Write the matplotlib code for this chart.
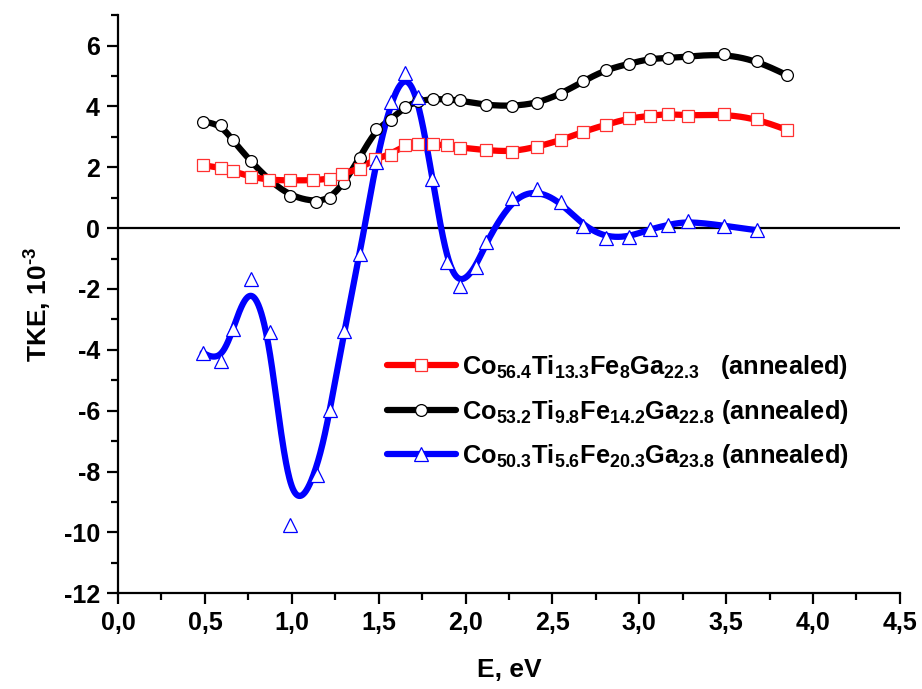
import numpy as np
import matplotlib
matplotlib.use('Agg')
import matplotlib.pyplot as plt
from matplotlib.lines import Line2D
from matplotlib.ticker import FuncFormatter, MultipleLocator

plt.rcParams['font.family'] = ['Liberation Sans', 'DejaVu Sans']
plt.rcParams['font.weight'] = 'bold'
plt.rcParams['axes.unicode_minus'] = False
plt.rcParams['mathtext.fontset'] = 'custom'
plt.rcParams['mathtext.rm'] = 'Liberation Sans'
plt.rcParams['mathtext.bf'] = 'Liberation Sans:bold'

# data (E in eV, TKE in 10^-3)
e_red = [0.491, 0.591, 0.66, 0.763, 0.871, 0.99, 1.12, 1.22, 1.289, 1.39, 1.48, 1.569, 1.651, 1.728,
         1.814, 1.891, 1.968, 2.12, 2.269, 2.409, 2.549, 2.677, 2.808, 2.94, 3.059, 3.168, 3.278,
         3.489, 3.677, 3.849]
tke_red = [2.07, 1.98, 1.875, 1.69, 1.58, 1.57, 1.57, 1.62, 1.77, 1.95, 2.28, 2.42, 2.73, 2.75,
           2.76, 2.72, 2.65, 2.56, 2.51, 2.67, 2.89, 3.17, 3.40, 3.61, 3.69, 3.76, 3.69,
           3.75, 3.59, 3.23]

e_black = [0.491, 0.591, 0.66, 0.763, 0.87, 0.99, 1.139, 1.22, 1.302, 1.39, 1.486, 1.571, 1.651, 1.728,
           1.814, 1.891, 1.968, 2.12, 2.269, 2.409, 2.549, 2.677, 2.808, 2.94, 3.059, 3.168, 3.278,
           3.489, 3.677, 3.849]
tke_black = [3.50, 3.40, 2.89, 2.20, 1.58, 1.05, 0.855, 0.98, 1.49, 2.31, 3.26, 3.57, 3.99, 4.18,
             4.25, 4.23, 4.20, 4.04, 4.01, 4.10, 4.41, 4.83, 5.21, 5.40, 5.57, 5.59, 5.64,
             5.73, 5.50, 5.03]

e_blue = [0.487, 0.591, 0.664, 0.763, 0.875, 0.99, 1.143, 1.22, 1.302, 1.392, 1.484, 1.569, 1.651,
          1.728, 1.81, 1.891, 1.968, 2.06, 2.12, 2.269, 2.409, 2.549, 2.677, 2.808, 2.94, 3.059,
          3.168, 3.278, 3.489, 3.677]
tke_blue = [-4.10, -4.38, -3.30, -1.66, -3.41, -9.75, -8.10, -5.99, -3.39, -0.86, 2.18, 4.15, 5.11,
            4.32, 1.61, -1.11, -1.91, -1.28, -0.45, 0.98, 1.27, 0.85, 0.08, -0.31, -0.29, -0.04,
            0.11, 0.23, 0.08, -0.07]

labels = [r'$\mathbf{Co}_{\mathbf{56.4}}\mathbf{Ti}_{\mathbf{13.3}}\mathbf{Fe}_{\mathbf{8}}\mathbf{Ga}_{\mathbf{22.3}}$   (annealed)',
          r'$\mathbf{Co}_{\mathbf{53.2}}\mathbf{Ti}_{\mathrm{9.8}}\mathbf{Fe}_{\mathbf{14.2}}\mathbf{Ga}_{\mathbf{22.8}}$ (annealed)',
          r'$\mathbf{Co}_{\mathrm{50.3}}\mathbf{Ti}_{\mathrm{5.6}}\mathbf{Fe}_{\mathrm{20.3}}\mathbf{Ga}_{\mathbf{23.8}}$ (annealed)']


def bspline(x, y, n=40):
    # Origin-like B-spline: points are control points, curve is clamped at the ends
    px = np.r_[x[0], x[0], x, x[-1], x[-1]]
    py = np.r_[y[0], y[0], y, y[-1], y[-1]]
    t = np.linspace(0, 1, n, endpoint=False)
    b0 = (1 - t) ** 3 / 6
    b1 = (3 * t ** 3 - 6 * t ** 2 + 4) / 6
    b2 = (-3 * t ** 3 + 3 * t ** 2 + 3 * t + 1) / 6
    b3 = t ** 3 / 6
    xs, ys = [], []
    for i in range(len(px) - 3):
        xs.append(b0 * px[i] + b1 * px[i + 1] + b2 * px[i + 2] + b3 * px[i + 3])
        ys.append(b0 * py[i] + b1 * py[i + 1] + b2 * py[i + 2] + b3 * py[i + 3])
    xs.append([x[-1]])
    ys.append([y[-1]])
    return np.concatenate(xs), np.concatenate(ys)


fig = plt.figure(figsize=(9.22, 6.89), dpi=100)
fig.set_facecolor('white')
ax = fig.add_axes([0.128, 0.139, 0.848, 0.839])

ax.axhline(0, color='black', lw=1.6, zorder=1)

series = [
    (e_black, tke_black, 'black', 'o', 'black', 8.5),
    (e_red, tke_red, '#ff0000', 's', '#ff3030', 8),
    (e_blue, tke_blue, '#0000ff', '^', '#0000ff', 9.5),
]
for ex, ty, col, mk, ec, ms in series:
    sx, sy = bspline(np.array(ex), np.array(ty))
    ax.plot(sx, sy, color=col, lw=4.5, solid_capstyle='round', zorder=2)
    ax.plot(ex, ty, ls='none', marker=mk, ms=ms, mfc='white', mec=ec, mew=0.9, zorder=3)

handles = [Line2D([], [], color='#ff0000', lw=4.5, solid_capstyle='round', marker='s', ms=8,
                  mfc='white', mec='#ff3030', mew=0.9),
           Line2D([], [], color='black', lw=4.5, solid_capstyle='round', marker='o', ms=8.5,
                  mfc='white', mec='black', mew=0.9),
           Line2D([], [], color='#0000ff', lw=4.5, solid_capstyle='round', marker='^', ms=9.5,
                  mfc='white', mec='#0000ff', mew=0.9)]
ax.legend(handles, labels, loc='upper left', bbox_to_anchor=(0.344, 0.416), frameon=False,
          prop={'size': 18.3, 'weight': 'bold'}, handlelength=2.7, handletextpad=0.25,
          labelspacing=0.66, borderpad=0, borderaxespad=0)

ax.set_xlim(0, 4.5)
ax.set_ylim(-12, 7)
ax.xaxis.set_major_locator(MultipleLocator(0.5))
ax.xaxis.set_minor_locator(MultipleLocator(0.25))
ax.yaxis.set_major_locator(MultipleLocator(2))
ax.yaxis.set_minor_locator(MultipleLocator(1))
ax.xaxis.set_major_formatter(FuncFormatter(lambda v, p: f'{v:.1f}'.replace('.', ',')))
ax.yaxis.set_major_formatter(FuncFormatter(lambda v, p: f'{v:.0f}'))

for s in ['top', 'right']:
    ax.spines[s].set_visible(False)
for s in ['left', 'bottom']:
    ax.spines[s].set_linewidth(1.6)
ax.tick_params(which='major', length=8, width=1.6, direction='out', labelsize=18, pad=5)
ax.tick_params(which='minor', length=5, width=1.6, direction='out')

ax.set_xlabel('E, eV', fontsize=19, fontweight='bold', labelpad=16)
ax.set_ylabel('TKE, 10$^{\\mathbf{\u20103}}$', fontsize=19, fontweight='bold', labelpad=8)

plt.savefig('out.png', dpi=100)
